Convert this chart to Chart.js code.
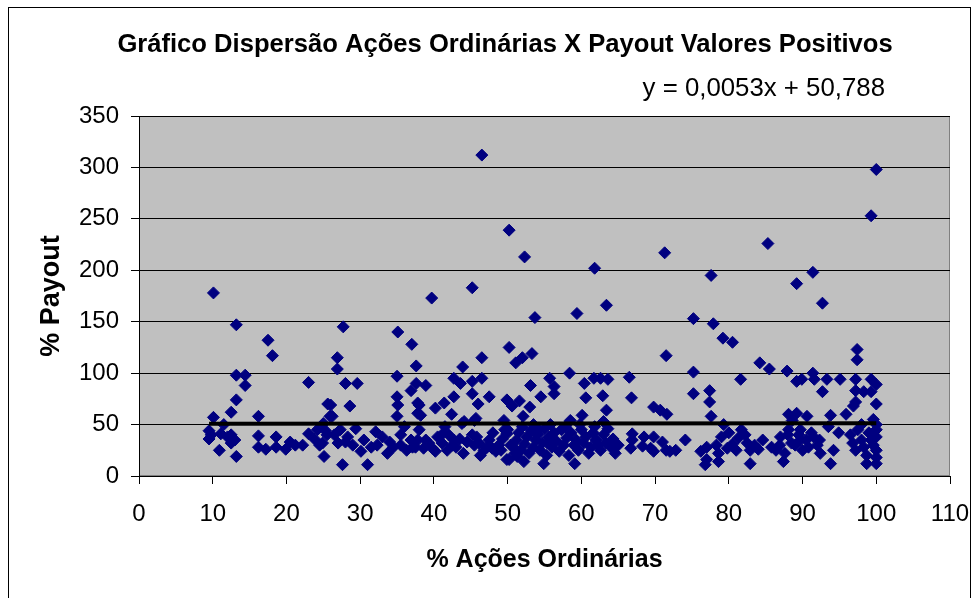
<!DOCTYPE html>
<html>
<head>
<meta charset="utf-8">
<script src="https://cdn.jsdelivr.net/npm/chart.js@4.4.1/dist/chart.umd.min.js"></script>
<style>
  html, body { margin: 0; padding: 0; background: #fff; }
  #wrap { width: 979px; height: 598px; }
</style>
</head>
<body>
<div id="wrap"><canvas id="grafico" width="979" height="598"></canvas></div>
<script>
const titulo = 'Gráfico Dispersão Ações Ordinárias X Payout Valores Positivos';
const equacao = 'y = 0,0053x + 50,788';
const tituloX = '% Ações Ordinárias';
const tituloY = '% Payout';

const ticksX = [0, 10, 20, 30, 40, 50, 60, 70, 80, 90, 100, 110];
const ticksY = [0, 50, 100, 150, 200, 250, 300, 350];

// linha de tendência (da equação do gráfico)
const inclinacao = 0.0053;
const intercepto = 50.788;

const faixa1 = [
  [9.5,44],[9.5,36],[9.8,40],[10.1,57],[10.1,178],[10.9,25],[11.1,41],[11.5,50],[12.0,38],[12.5,62],
  [12.5,40],[12.5,32],[13.0,35],[13.2,147],[13.2,98],[13.2,74],[13.2,19],[14.4,98],[14.4,88],[16.2,58],
  [16.2,39],[16.2,28],[17.2,26],[17.5,132],[18.1,117],[18.6,38],[18.6,28],[19.9,26],[20.5,33],[21.2,30],
  [22.2,30],[23.0,91],[23.0,41],[23.8,36],[24.2,45],[24.5,30],[24.9,32],[25.1,19],[25.0,51],[25.6,70],
  [25.9,58],[25.5,40],[25.3,44]
];
const faixa2 = [
  [26.0,69],[26.2,58],[26.5,40],[26.9,115],[26.9,104],[27.0,32],[27.3,45],[27.6,11],[27.7,145],[28.0,90],
  [28.0,33],[28.3,38],[28.6,68],[29.0,30],[29.4,46],[29.6,90],[30.1,24],[30.5,35],[31.0,11],[31.5,28],
  [32.1,43],[32.3,30],[33.0,38],[33.7,22],[34.0,33],[34.5,28],[35.0,97],[35.0,77],[35.1,69],[35.0,58],
  [35.1,140],[35.5,30],[35.5,40],[36.0,48],[36.3,25],[36.9,83],[36.9,35],[37.0,128],[37.1,28],[37.5,28],
  [37.6,107],[37.6,90],[37.8,71],[37.8,61],[37.8,35],[38.0,69],[38.0,45],[38.2,59],[38.6,27],[38.9,88],
  [38.9,35],[39.3,32],[39.7,173],[39.8,27],[40.2,66],[40.2,24],[40.5,38],[41.1,32],[41.2,41],[41.4,71],
  [41.5,48],[41.8,25],[42.0,40],[42.4,60],[42.5,30],[42.7,95],[42.7,77],[42.7,35],[43.0,28],[43.5,36],
  [43.6,90],[43.8,51],[43.9,106],[44.0,22],[44.1,53],[44.5,33],[45.2,183],[45.2,92],[45.2,80],[45.2,40],
  [45.5,54],[45.5,30],[45.7,56],[45.8,38],[46.0,70],[46.1,32],[46.3,20],[46.5,312],[46.5,115],[46.5,95],
  [46.8,25],[47.2,28],[47.5,77],[47.5,35],[47.9,27],[48.0,42],[48.4,24],[48.8,30],[49.1,25],[49.3,36],
  [49.5,54],[49.6,45],[49.9,74],[49.9,41],[49.9,16]
];
const faixa3 = [
  [50.0,45],[50.2,239],[50.2,125],[50.2,16],[50.4,30],[50.6,68],[50.8,28],[51.0,22],[51.1,110],[51.2,35],
  [51.3,19],[51.6,73],[51.5,42],[51.8,25],[52.0,115],[52.0,48],[52.1,58],[52.2,14],[52.3,213],[52.3,31],
  [52.6,38],[52.9,22],[53.0,67],[53.1,88],[53.2,44],[53.3,119],[53.5,28],[53.5,50],[53.7,154],[53.8,35],
  [54.1,40],[54.2,45],[54.4,25],[54.5,77],[54.7,32],[54.9,12],[55.0,46],[55.3,20],[55.4,32],[55.6,38],
  [55.7,95],[55.8,50],[56.0,28],[56.3,87],[56.3,80],[56.3,42],[56.6,34],[57.0,24],[57.3,45],[57.6,30],
  [57.8,48],[58.0,37],[58.3,20],[58.4,100],[58.5,54],[58.6,42],[59.0,30],[59.1,12],[59.3,35],[59.4,158],
  [59.6,25],[59.8,50],[60.0,45],[60.1,59],[60.3,32],[60.4,90],[60.6,76],[60.6,38],[61.0,22],[61.3,28],
  [61.6,42],[61.7,95],[61.8,202],[61.8,48],[62.0,35],[62.3,30],[62.6,95],[62.6,25],[62.9,78],[63.0,40],
  [63.0,53],[63.3,32],[63.4,166],[63.4,64],[63.6,94],[63.6,46],[64.0,28],[64.3,36],[64.6,22],[65.0,30]
];
const faixa4 = [
  [66.5,96],[66.7,27],[66.8,76],[66.9,35],[66.9,41],[68.3,29],[68.5,38],[69.4,27],[69.8,38],[69.8,67],
  [69.8,24],[70.7,64],[71.0,33],[71.3,217],[71.5,117],[71.5,25],[71.6,60],[72.0,24],[72.8,25],[74.1,35],
  [75.2,153],[75.2,101],[75.2,80],[76.2,24],[76.8,11],[77.0,16],[77.0,28],[77.4,83],[77.4,72],[77.6,195],
  [77.6,58],[77.9,148],[78.3,30],[78.6,14],[78.6,22],[79.0,38],[79.2,134],[79.3,50],[79.8,27],[80.0,42]
];
const faixa5 = [
  [80.5,130],[80.5,31],[81.0,25],[81.3,37],[81.6,94],[81.7,45],[82.2,40],[82.5,32],[82.9,25],[82.9,12],
  [83.5,30],[84.0,26],[84.2,110],[84.6,35],[85.3,226],[85.5,104],[85.8,28],[86.4,25],[86.9,30],[87.0,38],
  [87.4,14],[87.6,22],[87.9,102],[88.0,40],[88.1,60],[88.1,45],[88.5,32],[88.6,54],[89.0,30],[89.2,187],
  [89.2,92],[89.2,61],[89.5,40],[89.7,45],[89.7,35],[89.9,94],[90.0,25],[90.5,35],[90.6,58],[90.8,28],
  [91.2,42],[91.4,198],[91.4,100],[91.5,38],[91.6,94],[92.0,30],[92.3,35],[92.4,22],[92.7,168],[92.7,82],
  [93.3,94],[93.5,48],[93.8,59],[93.8,12],[94.2,25],[94.9,42],[95.1,94],[95.9,60],[96.5,40],[96.8,32],
  [96.9,68],[97.2,94],[97.2,83],[97.2,72],[97.2,25],[97.4,123],[97.4,113],[97.5,45],[98.0,35],[98.0,50],
  [98.3,82],[98.3,28],[98.7,20],[98.7,12],[99.0,42],[99.3,253],[99.3,94],[99.3,82],[99.3,35],[99.6,30],
  [99.6,55],[100,298],[100,89],[100,70],[100,50],[100,45],[100,38],[100,25],[100,18],[100,12]
];

const fonte = "'Liberation Sans', Arial, sans-serif";

const pontos = [...faixa1, ...faixa2, ...faixa3, ...faixa4, ...faixa5].map(p => ({x: p[0], y: p[1]}));
const xMin = Math.min(...pontos.map(p => p.x));
const xMax = Math.max(...pontos.map(p => p.x));
const tendencia = [xMin, xMax].map(x => ({x: x, y: inclinacao * x + intercepto}));

// fundo, moldura e área de plotagem cinza, textos do título
const moldura = {
    id: 'moldura',
    beforeDraw(chart) {
        const {ctx, chartArea: a} = chart;
        ctx.save();
        ctx.fillStyle = '#fff';
        ctx.fillRect(0, 0, chart.width, chart.height);
        ctx.strokeStyle = '#000';
        ctx.lineWidth = 1;
        ctx.strokeRect(8.5, 7.5, 962, chart.height + 20);
        ctx.fillStyle = '#c0c0c0';
        ctx.fillRect(a.left, a.top, a.right - a.left, a.bottom - a.top);
        ctx.strokeStyle = '#808080';
        ctx.strokeRect(a.left + 0.5, a.top + 0.5, a.right - a.left - 1, a.bottom - a.top - 1);
        ctx.restore();
    },
    afterDraw(chart) {
        const ctx = chart.ctx;
        ctx.save();
        ctx.fillStyle = '#000';
        ctx.textBaseline = 'alphabetic';
        ctx.font = 'bold 25.6px ' + fonte;
        ctx.textAlign = 'center';
        ctx.fillText(titulo, 505, 52);
        ctx.font = '25.8px ' + fonte;
        ctx.textAlign = 'right';
        ctx.fillText(equacao, 885, 96);
        ctx.restore();
    }
};

const ctx = document.getElementById('grafico').getContext('2d');
new Chart(ctx, {
    type: 'scatter',
    data: {
        datasets: [
            {
                type: 'line',
                data: tendencia,
                borderColor: '#000',
                borderWidth: 4,
                pointRadius: 0,
                fill: false,
                order: 0
            },
            {
                data: pontos,
                pointStyle: 'rectRot',
                pointRadius: 6,
                pointBackgroundColor: '#000080',
                pointBorderColor: '#000080',
                pointBorderWidth: 1,
                order: 1
            }
        ]
    },
    options: {
        responsive: false,
        animation: false,
        devicePixelRatio: 1,
        layout: { padding: { top: 116, right: 29, bottom: 0, left: 0 } },
        plugins: {
            legend: { display: false },
            tooltip: { enabled: false }
        },
        scales: {
            x: {
                type: 'linear',
                min: ticksX[0],
                max: ticksX[ticksX.length - 1],
                ticks: {
                    stepSize: ticksX[1] - ticksX[0],
                    color: '#000',
                    font: { family: fonte, size: 24 },
                    padding: 16,
                    maxRotation: 0,
                    autoSkip: false
                },
                grid: { drawOnChartArea: false, drawTicks: true, tickLength: 8, tickColor: '#000' },
                border: { color: '#000', width: 1 },
                title: {
                    display: true, text: tituloX, color: '#000',
                    font: { family: fonte, size: 25, weight: 'bold' },
                    padding: { top: 0, bottom: 23 }
                },
                afterFit: s => { s.height = 122; s.paddingLeft = 0; s.paddingRight = 0; }
            },
            y: {
                type: 'linear',
                min: ticksY[0],
                max: ticksY[ticksY.length - 1],
                ticks: {
                    stepSize: ticksY[1] - ticksY[0],
                    color: '#000',
                    font: { family: fonte, size: 24 },
                    padding: 12
                },
                grid: { color: '#000', lineWidth: 1, tickLength: 8, tickColor: '#000' },
                border: { color: '#000', width: 1 },
                title: {
                    display: true, text: tituloY, color: '#000',
                    font: { family: fonte, size: 27, weight: 'bold' },
                    padding: { top: 35, bottom: 0 }
                },
                afterFit: s => { s.width = 139; }
            }
        }
    },
    plugins: [moldura]
});
</script>
</body>
</html>
